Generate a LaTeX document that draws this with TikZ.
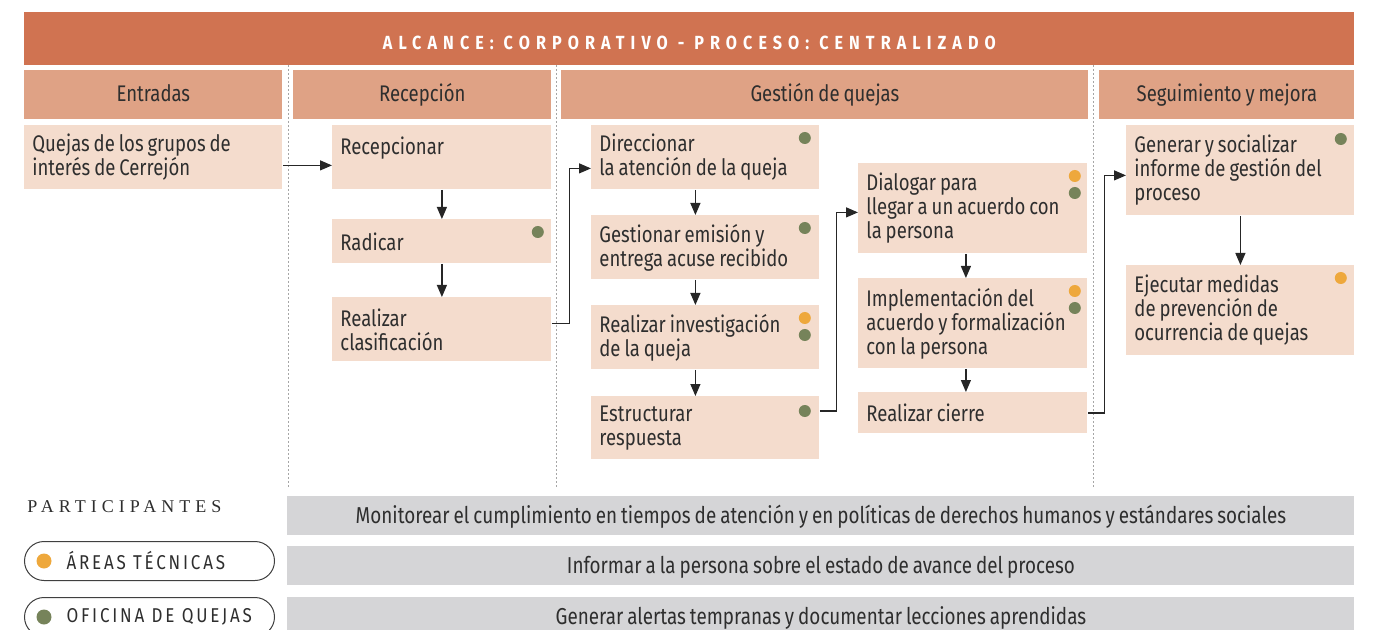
\documentclass[tikz,border=0pt]{standalone}
\usepackage{fontspec}
\setmainfont{Fira Sans}[FakeStretch=0.82, WordSpace=0.8]
\newfontfamily\qxtitlefont{Fira Sans}[FakeStretch=0.85, LetterSpace=32]
\newfontfamily\qxlegfont{Fira Sans}[FakeStretch=0.85, LetterSpace=14]
\newfontfamily\qxpartfont{Liberation Serif}[LetterSpace=28]
\usepackage{tikz}
\usetikzlibrary{positioning,arrows.meta,calc}
\definecolor{qxTitle}{HTML}{D07351}
\definecolor{qxHead}{HTML}{DFA285}
\definecolor{qxBox}{HTML}{F4DCCD}
\definecolor{qxBar}{HTML}{D5D5D7}
\definecolor{qxOrange}{HTML}{EEA83C}
\definecolor{qxGreen}{HTML}{76835A}
\definecolor{qxText}{HTML}{2E2E2E}
\tikzset{
  qxtitle/.style={fill=qxTitle, anchor=north west, minimum width=665pt, minimum height=26.5pt,
                  inner sep=0pt, text=white, text height=10.5pt, text depth=0pt,
                  font=\qxtitlefont\bfseries\fontsize{9.5}{10}\selectfont},
  qxhead/.style={fill=qxHead, anchor=north west, minimum height=24.5pt, inner sep=0pt,
                 text height=8.5pt, text depth=2pt,
                 text=qxText, font=\fontsize{11.3}{12}\selectfont},
  qxbox/.style={fill=qxBox, anchor=north west, text width=#1, inner xsep=4pt, inner ysep=0pt,
                align=flush left, text=qxText, font=\fontsize{11.3}{12}\selectfont},
  qxdot/.style={circle, inner sep=0pt, minimum size=6pt},
  qxflow/.style={draw=black!85, line width=0.6pt, -{Triangle[length=6pt, width=5pt]}},
  qxsep/.style={draw=black!35, line width=0.5pt, dash pattern=on 1pt off 1pt},
  qxbar/.style={fill=qxBar, anchor=north west, minimum width=533.5pt, minimum height=19.5pt,
                inner sep=0pt, text height=9.5pt, text depth=1.5pt,
                text=qxText, font=\fontsize{11.5}{12}\selectfont},
  qxpill/.style={draw=black!75, line width=0.5pt, rounded corners=9.75pt, anchor=north west,
                 minimum height=19.5pt, text width=83pt, inner xsep=21pt, inner ysep=0pt,
                 align=flush left, text=qxText, font=\qxlegfont\fontsize{10}{11}\selectfont},
}

\begin{document}
\begin{tikzpicture}[x=0.5pt, y=-0.5pt]
  \useasboundingbox (0,0) rectangle (1374,630);
  % title and lanes
  \node[qxtitle] (tt) at (24,12) {ALCANCE: CORPORATIVO - PROCESO: CENTRALIZADO};
  \node[qxhead, minimum width=129pt] (hE) at (24,70) {Entradas};
  \node[qxhead, minimum width=129pt] (hR) at (293,70) {Recepción};
  \node[qxhead, minimum width=263.5pt] (hG) at (561,70) {Gestión de quejas};
  \node[qxhead, minimum width=127.5pt] (hS) at (1099,70) {Seguimiento y mejora};
  \foreach \x in {288,556,1093}
    \draw[qxsep] (\x,65) -- (\x,487);

  % entradas, recepcion
  \node[qxbox=121pt, minimum height=32pt] (qj) at (24,125) {Quejas de los grupos de\\interés de Cerrejón};
  \node[qxbox=101.5pt, minimum height=32pt] (rc) at (332,125) {Recepcionar\\\mbox{}};
  \node[qxbox=101.5pt, minimum height=22pt] (rd) at (332,219) {Radicar};
  \node[qxbox=101.5pt, minimum height=32pt] (cl) at (332,297) {Realizar\\clasificación};

  % gestion de quejas
  \node[qxbox=106pt, minimum height=32pt] (di) at (591,125) {Direccionar\\la atención de la queja};
  \node[qxbox=106pt, minimum height=32pt] (ge) at (591,215) {Gestionar emisión y\\entrega acuse recibido};
  \node[qxbox=106pt, minimum height=32pt] (iv) at (591,305) {Realizar investigación\\de la queja};
  \node[qxbox=106pt, minimum height=31.5pt] (es) at (591,396) {Estructurar\\respuesta};
  \node[qxbox=106.5pt, minimum height=45pt] (dl) at (858,163) {Dialogar para\\llegar a un acuerdo con\\la persona};
  \node[qxbox=106.5pt, minimum height=45pt] (im) at (858,278) {Implementación del\\acuerdo y formalización\\con la persona};
  \node[qxbox=106.5pt, minimum height=20.5pt] (ci) at (858,392) {Realizar cierre};

  % seguimiento
  \node[qxbox=106pt, minimum height=45pt] (gs) at (1126,125) {Generar y socializar\\informe de gestión del\\proceso};
  \node[qxbox=106pt, minimum height=45pt] (ej) at (1126,265) {Ejecutar medidas\\de prevención de\\ocurrencia de quejas};

  % participantes en cada paso
  \node[qxdot, fill=qxGreen] (d1) at ($(rd.north east)+(-7pt,-6.5pt)$) {};
  \node[qxdot, fill=qxGreen] (d2) at ($(di.north east)+(-7.5pt,-6.5pt)$) {};
  \node[qxdot, fill=qxGreen] (d3) at ($(ge.north east)+(-7.5pt,-6.5pt)$) {};
  \node[qxdot, fill=qxOrange] (d4) at ($(iv.north east)+(-7.5pt,-6.5pt)$) {};
  \node[qxdot, fill=qxGreen] (d5) at ($(iv.north east)+(-7.5pt,-15pt)$) {};
  \node[qxdot, fill=qxGreen] (d6) at ($(es.north east)+(-7.5pt,-7.5pt)$) {};
  \node[qxdot, fill=qxOrange] (d7) at ($(dl.north east)+(-6.5pt,-6.5pt)$) {};
  \node[qxdot, fill=qxGreen] (d8) at ($(dl.north east)+(-6.5pt,-15pt)$) {};
  \node[qxdot, fill=qxOrange] (d9) at ($(im.north east)+(-6.5pt,-6.5pt)$) {};
  \node[qxdot, fill=qxGreen] (d10) at ($(im.north east)+(-6.5pt,-15pt)$) {};
  \node[qxdot, fill=qxGreen] (d11) at ($(gs.north east)+(-7pt,-7pt)$) {};
  \node[qxdot, fill=qxOrange] (d12) at ($(ej.north east)+(-7pt,-6.5pt)$) {};

  % flujo
  \draw[qxflow] ([yshift=-4pt]qj.east) -- ([yshift=-4pt]rc.west);
  \draw[qxflow] (rc.south) -- (rd.north);
  \draw[qxflow] (rd.south) -- (cl.north);
  \draw[qxflow] ([yshift=3pt]cl.east) -- ++(9pt,0) |- ([yshift=-5.5pt]di.west);
  \draw[qxflow] ([xshift=-5pt]di.south) -- ([xshift=-5pt]ge.north);
  \draw[qxflow] ([xshift=-5pt]ge.south) -- ([xshift=-5pt]iv.north);
  \draw[qxflow] ([xshift=-5pt]iv.south) -- ([xshift=-5pt]es.north);
  \draw[qxflow] ([yshift=8.5pt]es.east) -- ++(8.5pt,0) |- ([yshift=-2pt]dl.west);
  \draw[qxflow] ([xshift=-3.5pt]dl.south) -- ([xshift=-3.5pt]im.north);
  \draw[qxflow] ([xshift=-3.5pt]im.south) -- ([xshift=-3.5pt]ci.north);
  \draw[qxflow] (ci.east) -- ++(8.5pt,0) |- ([yshift=-2.5pt]gs.west);
  \draw[qxflow] (gs.south) -- (ej.north);

  % participantes
  \node[anchor=west, inner sep=0pt, text=qxText, font=\qxpartfont\fontsize{9}{10}\selectfont] (pt) at (27,507) {PARTICIPANTES};
  \node[qxpill] (pA) at (24,541) {\mbox{ÁREAS TÉCNICAS}};
  \node[qxpill] (pO) at (24,597) {\mbox{OFICINA DE QUEJAS}};
  \node[qxdot, minimum size=7.5pt, fill=qxOrange] (lA) at ([xshift=10pt]pA.west) {};
  \node[qxdot, minimum size=7.5pt, fill=qxGreen] (lO) at ([xshift=10pt]pO.west) {};
  \node[qxbar] (b1) at (287,496) {Monitorear el cumplimiento en tiempos de atención y en políticas de derechos humanos y estándares sociales};
  \node[qxbar] (b2) at (287,546) {Informar a la persona sobre el estado de avance del proceso};
  \node[qxbar] (b3) at (287,597) {Generar alertas tempranas y documentar lecciones aprendidas};
\end{tikzpicture}
\end{document}
